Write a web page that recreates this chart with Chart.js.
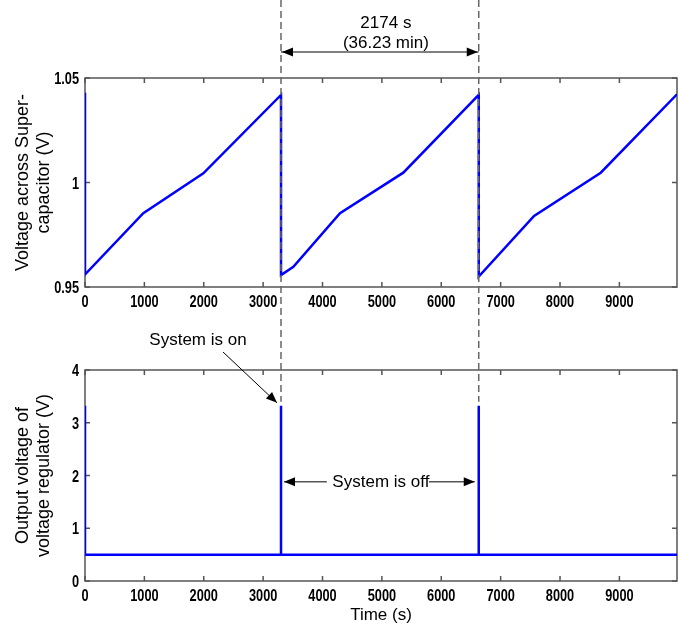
<!DOCTYPE html>
<html>
<head>
<meta charset="utf-8">
<script src="https://cdn.jsdelivr.net/npm/chart.js@4.4.1/dist/chart.umd.min.js"></script>
<style>
    html, body { margin: 0; padding: 0; background: #fff; }
    #wrap { position: relative; width: 678px; height: 626px; }
    #wrap canvas { position: absolute; left: 0; top: 0; }
</style>
</head>
<body>
<div id="wrap">
    <canvas id="capChart" width="678" height="626"></canvas>
    <canvas id="regChart" width="678" height="626"></canvas>
</div>
<script>
// supercapacitor voltage (top plot)
const capTime = [0, 0, 982, 1993, 3301,
    3301, 3509, 4295, 5361, 6631,
    6631, 7563, 8686, 9970];
const capVolt = [1.043, 0.956, 0.9853, 1.0044, 1.0419,
    0.9557, 0.9597, 0.9853, 1.0047, 1.0419,
    0.955, 0.984, 1.0047, 1.0422];

// regulator output voltage (bottom plot)
const regTime = [0, 0, 3301, 3301, 3301, 6631, 6631, 6631, 9970];
const regVolt = [3.32, 0.5, 0.5, 3.32, 0.5, 0.5, 3.32, 0.5, 0.5];

const switchTimes = [3301, 6631];
const xMax = 9970;

const FONT = "'Liberation Sans', Arial, Helvetica, sans-serif";
const BLUE = "#0000ff";
const AXIS_COLOR = "#555";

const titleFont = { family: FONT, size: 18, lineHeight: 1.2 };

function toPoints(xs, ys) {
    return xs.map((x, i) => ({ x: x, y: ys[i] }));
}

// box + inward ticks, MATLAB style
const boxPlugin = {
    id: "matlabBox",
    beforeDatasetsDraw(chart) {
        const { ctx, chartArea: a, scales } = chart;
        ctx.save();
        ctx.strokeStyle = AXIS_COLOR;
        ctx.lineWidth = 1.5;
        ctx.strokeRect(a.left, a.top, a.right - a.left, a.bottom - a.top);
        ctx.beginPath();
        scales.x.ticks.forEach((t) => {
            const px = scales.x.getPixelForValue(t.value);
            ctx.moveTo(px, a.bottom);
            ctx.lineTo(px, a.bottom - 5);
            ctx.moveTo(px, a.top);
            ctx.lineTo(px, a.top + 5);
        });
        scales.y.ticks.forEach((t) => {
            const py = scales.y.getPixelForValue(t.value);
            ctx.moveTo(a.left, py);
            ctx.lineTo(a.left + 5, py);
            ctx.moveTo(a.right, py);
            ctx.lineTo(a.right - 5, py);
        });
        ctx.stroke();
        ctx.restore();
    },
};

function drawSqueezed(ctx, x, y, text, align) {
    ctx.save();
    ctx.translate(x, y);
    ctx.scale(0.75, 1);
    ctx.textAlign = align;
    ctx.fillText(text, 0, 0);
    ctx.restore();
}

// condensed bold tick labels
const tickLabelPlugin = {
    id: "tickLabels",
    afterDraw(chart) {
        const { ctx, chartArea: a, scales } = chart;
        ctx.save();
        ctx.fillStyle = "#000";
        ctx.font = "bold 17px " + FONT;
        ctx.textBaseline = "alphabetic";
        scales.x.ticks.forEach((t) => {
            const label = t.label !== undefined ? String(t.label) : String(t.value);
            drawSqueezed(ctx, scales.x.getPixelForValue(t.value), a.bottom + 20, label, "center");
        });
        scales.y.ticks.forEach((t) => {
            const label = t.label !== undefined ? String(t.label) : String(t.value);
            drawSqueezed(ctx, a.left - 6, scales.y.getPixelForValue(t.value) + 6, label, "right");
        });
        ctx.restore();
    },
};

function xScaleOptions(height) {
    return {
        type: "linear",
        min: 0,
        max: xMax,
        grid: { display: false, drawTicks: false },
        border: { display: false },
        ticks: {
            display: false,
            includeBounds: false,
            maxTicksLimit: 11,
            maxRotation: 0,
            callback: (v) => String(v),
        },
        afterFit(scale) {
            scale.height = height;
        },
    };
}

function yScaleOptions(min, max, step, title) {
    return {
        min: min,
        max: max,
        grid: { display: false, drawTicks: false },
        border: { display: false },
        ticks: {
            display: false,
            stepSize: step,
            callback: (v) => String(+v.toFixed(2)),
        },
        title: {
            display: true,
            text: title,
            color: "#000",
            font: titleFont,
            padding: { top: 12 },
        },
        afterFit(scale) {
            scale.width = 85;
        },
    };
}

function makeChart(id, points, yOpts, xOpts, padding, extraPlugins) {
    return new Chart(document.getElementById(id), {
        type: "line",
        data: {
            datasets: [
                {
                    data: points,
                    borderColor: BLUE,
                    borderWidth: 2.5,
                    pointRadius: 0,
                    tension: 0,
                    clip: 0,
                },
            ],
        },
        options: {
            responsive: false,
            animation: false,
            devicePixelRatio: 1,
            layout: { padding: padding },
            plugins: { legend: { display: false }, tooltip: { enabled: false } },
            scales: { x: xOpts, y: yOpts },
        },
        plugins: [boxPlugin, tickLabelPlugin].concat(extraPlugins),
    });
}

const capChart = makeChart(
    "capChart",
    toPoints(capTime, capVolt),
    yScaleOptions(0.95, 1.05, 0.05, ["Voltage across Super-", "capacitor (V)"]),
    xScaleOptions(25),
    { top: 78, bottom: 314, left: 0, right: 1 },
    []
);

function arrowHead(ctx, x1, y1, x2, y2) {
    const ang = Math.atan2(y2 - y1, x2 - x1);
    const len = 11;
    const half = 4.5;
    ctx.beginPath();
    ctx.moveTo(x2, y2);
    ctx.lineTo(x2 - len * Math.cos(ang) + half * Math.sin(ang), y2 - len * Math.sin(ang) - half * Math.cos(ang));
    ctx.lineTo(x2 - len * Math.cos(ang) - half * Math.sin(ang), y2 - len * Math.sin(ang) + half * Math.cos(ang));
    ctx.closePath();
    ctx.fill();
}

function arrow(ctx, x1, y1, x2, y2) {
    ctx.beginPath();
    ctx.moveTo(x1, y1);
    ctx.lineTo(x2, y2);
    ctx.stroke();
    arrowHead(ctx, x1, y1, x2, y2);
}

const notesPlugin = {
    id: "notes",
    afterDraw(chart) {
        const ctx = chart.ctx;
        const xs = capChart.scales.x;
        const ys = chart.scales.y;
        const topArea = capChart.chartArea;
        const peakY = ys.getPixelForValue(regVolt[3]);
        const xa = xs.getPixelForValue(switchTimes[0]);
        const xb = xs.getPixelForValue(switchTimes[1]);

        ctx.save();
        // dashed markers
        ctx.strokeStyle = "#666";
        ctx.lineWidth = 1.5;
        ctx.setLineDash([7, 4]);
        switchTimes.forEach((t) => {
            const px = xs.getPixelForValue(t);
            ctx.beginPath();
            ctx.moveTo(px, 0);
            ctx.lineTo(px, peakY - 4);
            ctx.stroke();
        });
        ctx.setLineDash([]);

        ctx.strokeStyle = "#000";
        ctx.fillStyle = "#000";
        ctx.lineWidth = 1;

        // period arrow
        const ay = topArea.top - 26;
        const mid = (xa + xb) / 2;
        ctx.beginPath();
        ctx.moveTo(xa, ay);
        ctx.lineTo(xb, ay);
        ctx.stroke();
        arrowHead(ctx, mid, ay, xa + 1, ay);
        arrowHead(ctx, mid, ay, xb - 1, ay);

        ctx.font = "17px " + FONT;
        ctx.textAlign = "center";
        ctx.textBaseline = "middle";
        ctx.fillText("2174 s", mid + 6, topArea.top - 55);
        ctx.fillText("(36.23 min)", mid + 6, topArea.top - 35);

        // system is on
        ctx.fillText("System is on", xa - 83, chart.chartArea.top - 30);
        arrow(ctx, xa - 58, chart.chartArea.top - 18, xa - 4, peakY - 3);

        // system is off
        const offY = ys.getPixelForValue(1.88);
        ctx.fillText("System is off", mid + 1, offY);
        arrow(ctx, mid - 53, offY, xa + 3, offY);
        arrow(ctx, mid + 49, offY, xb - 4, offY);
        ctx.restore();
    },
};

const regChart = makeChart(
    "regChart",
    toPoints(regTime, regVolt),
    yScaleOptions(0, 4, 1, ["Output voltage of", "voltage regulator (V)"]),
    Object.assign(xScaleOptions(45), {
        title: {
            display: true,
            text: "Time (s)",
            color: "#000",
            font: { family: FONT, size: 17 },
            padding: { top: 0, bottom: 0 },
        },
    }),
    { top: 370, bottom: 0, left: 0, right: 1 },
    [notesPlugin]
);
</script>
</body>
</html>
